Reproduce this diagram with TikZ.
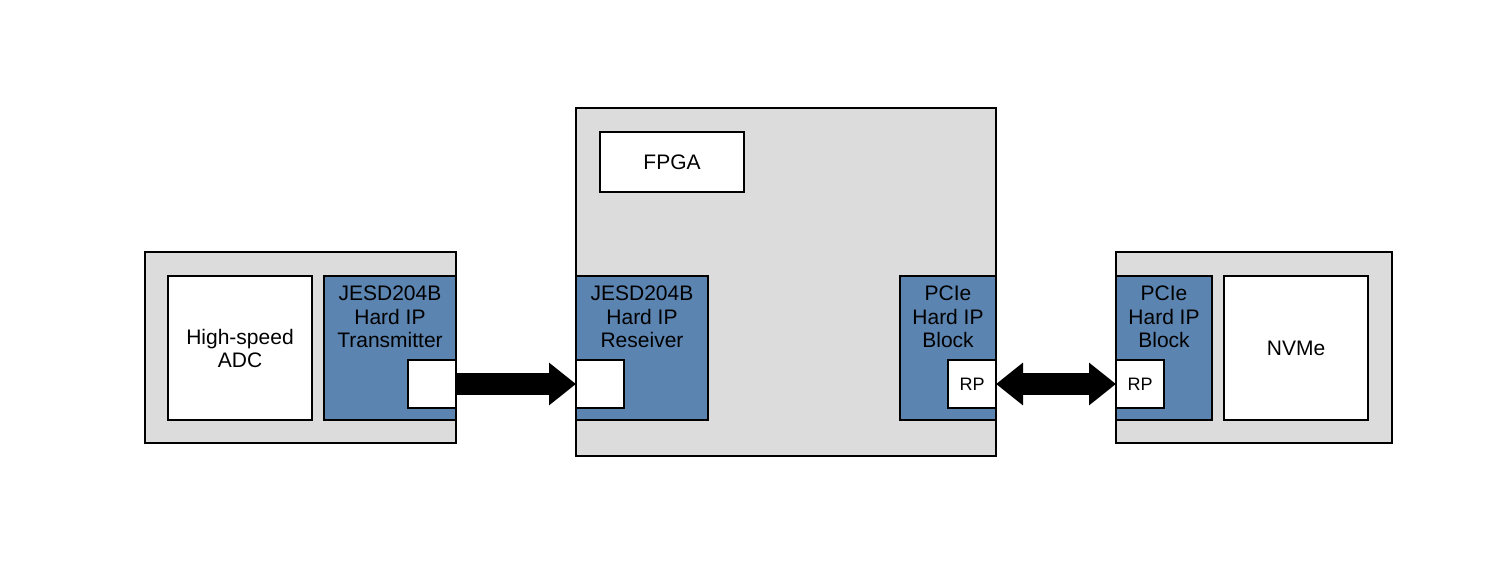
\documentclass[tikz,border=0pt]{standalone}
\usepackage{fontspec}
\setmainfont{Liberation Sans}
\usetikzlibrary{arrows.meta}
\definecolor{boardgrey}{HTML}{DCDCDC}
\definecolor{ipblue}{HTML}{5B84B1}

\begin{document}
\begin{tikzpicture}[x=0.75pt,y=-0.75pt,
    box/.style={draw,line width=0.9pt,inner sep=0pt,outer sep=0pt},
    board/.style={box,fill=boardgrey},
    ipblock/.style={box,fill=ipblue},
    port/.style={box,fill=white,minimum width=36pt,minimum height=36pt,font=\fontsize{13.5pt}{15pt}\selectfont},
    iptext/.style={anchor=north,align=center,inner sep=0pt,font=\fontsize{15.75pt}{17.6pt}\selectfont},
    bigarrow/.style={line width=16.5pt,-{Triangle[length=20.25pt,width=30.75pt]}},
    bigdarrow/.style={line width=16.5pt,{Triangle[length=20.25pt,width=30.75pt]}-{Triangle[length=20.25pt,width=30.75pt]}}]
\useasboundingbox (0,0) rectangle (1512,567);
\tikzset{every node/.append style={font=\fontsize{15.75pt}{17.25pt}\selectfont}}

% ADC board
\node[board,minimum width=233.25pt,minimum height=143.25pt] (adcboard) at (300.5,347.5) {};
\node[box,fill=white,minimum width=108pt,minimum height=108pt,align=center] (adc) at (240,348) {High-speed\\ADC};
\node[ipblock,minimum width=99pt,minimum height=108pt] (tx) at (390,348) {};
\node[iptext] (txlabel) at (390,286) {JESD204B\\Hard IP\\Transmitter};
\node[port] (txport) at (432,384) {};

% FPGA
\node[board,minimum width=315pt,minimum height=261pt] (fpga) at (786,282) {};
\node[box,fill=white,minimum width=108pt,minimum height=45pt] (fpgalabel) at (672,162) {FPGA};
\node[ipblock,minimum width=99pt,minimum height=108pt] (rx) at (642,348) {};
\node[iptext] (rxlabel) at (642,286) {JESD204B\\Hard IP\\Reseiver};
\node[port] (rxport) at (600,384) {};
\node[ipblock,minimum width=72pt,minimum height=108pt] (pcie) at (948,348) {};
\node[iptext] (pcielabel) at (948,286) {PCIe\\Hard IP\\Block};
\node[port] (rp) at (972,384) {RP};

% NVMe board
\node[board,minimum width=207pt,minimum height=143.25pt] (nvmeboard) at (1254,347.5) {};
\node[ipblock,minimum width=72pt,minimum height=108pt] (epcie) at (1164,348) {};
\node[iptext] (epcielabel) at (1164,286) {PCIe\\Hard IP\\Block};
\node[port] (erp) at (1140,384) {RP};
\node[box,fill=white,minimum width=108pt,minimum height=108pt] (nvme) at (1296,348) {NVMe};

% Links
\draw[bigarrow] (txport.east) -- (rxport.west);
\draw[bigdarrow] (rp.east) -- (erp.west);
\end{tikzpicture}
\end{document}
